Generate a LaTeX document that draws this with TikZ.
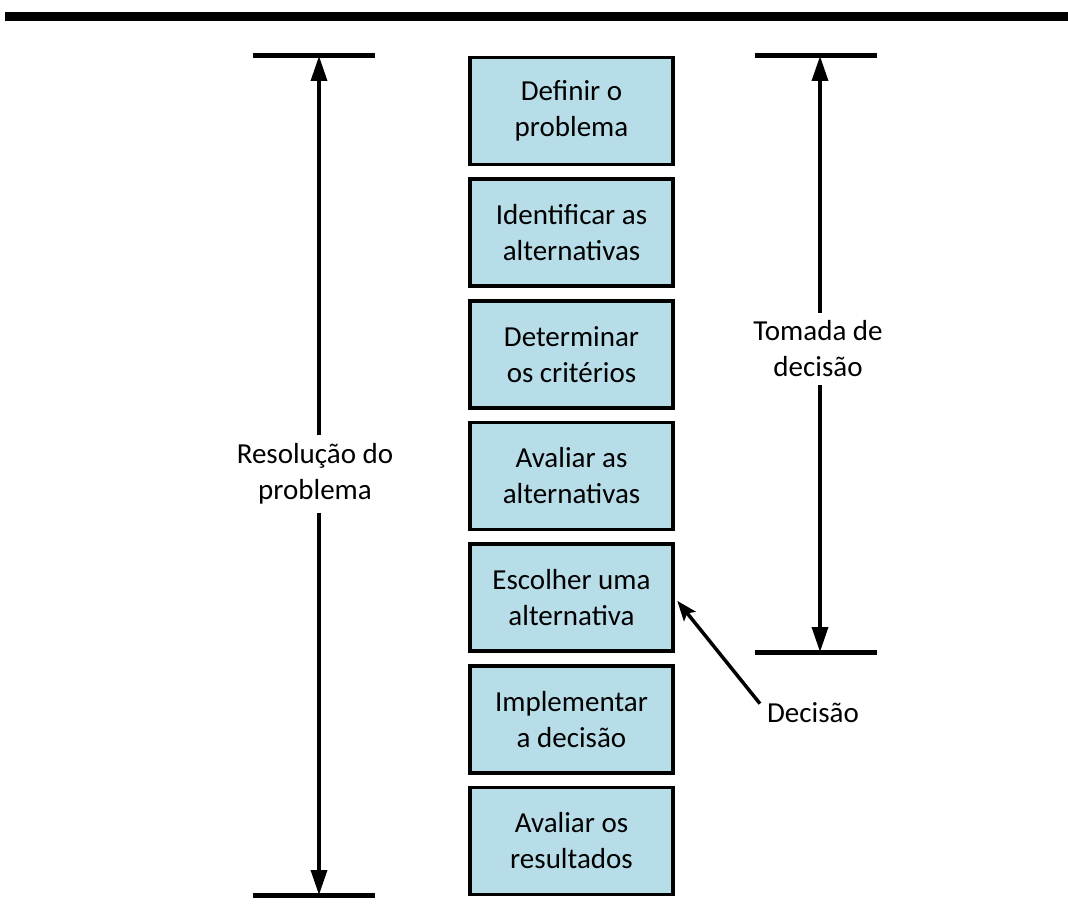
\documentclass[tikz,border=0pt]{standalone}
\usepackage{fontspec}
\setmainfont{Carlito}
\usetikzlibrary{arrows.meta}
\definecolor{stepfill}{HTML}{B7DDE8}
\begin{document}
\begin{tikzpicture}[x=1pt,y=-1pt,
  txt/.style={font=\fontsize{29}{36}\selectfont, align=center},
  stepbox/.style={txt, draw=black, line width=3.5pt, fill=stepfill,
    minimum width=203pt, minimum height=107pt, inner sep=0pt},
  label/.style={txt, inner sep=8pt},
  bar/.style={line width=5pt},
  span/.style={line width=3.5pt, -{Triangle[length=25pt,width=16pt]}},
  pointer/.style={line width=3.5pt, -{Stealth[length=20pt,width=15pt,inset=4pt]}}
]
\useasboundingbox (0,0) rectangle (1068,917);

% heading rule
\fill (5,12) rectangle (1068,21);

% process steps
\node[stepbox] (b1) at (571.5,111)   {Definir o\\problema};
\node[stepbox] (b2) at (571.5,232.7) {Identificar as\\alternativas};
\node[stepbox] (b3) at (571.5,354.3) {Determinar\\os critérios};
\node[stepbox] (b4) at (571.5,476)   {Avaliar as\\alternativas};
\node[stepbox] (b5) at (571.5,597.7) {Escolher uma\\alternativa};
\node[stepbox] (b6) at (571.5,719.3) {Implementar\\a decisão};
\node[stepbox] (b7) at (571.5,841)   {Avaliar os\\resultados};

% problem-solving span (left)
\coordinate (lt) at (319,56);
\coordinate (lb) at (319,895);
\draw[bar] (253,56) -- (375,56);
\draw[bar] (253,895) -- (375,895);
\node[label] (res) at (315,474) {Resolução do\\problema};
\draw[span] (res.north -| lt) -- (lt);
\draw[span] (res.south -| lb) -- (lb);

% decision-making span (right)
\coordinate (rt) at (820,56);
\coordinate (rb) at (820,652);
\draw[bar] (755,56) -- (877,56);
\draw[bar] (755,652) -- (877,652);
\node[label] (tom) at (818,349) {Tomada de\\decisão};
\draw[span] (tom.north -| rt) -- (rt);
\draw[span] (tom.south -| rb) -- (rb);

% decision pointer
\node[label, inner sep=7pt] (dec) at (813,713) {Decisão};
\draw[pointer, shorten >=4pt] (dec.170) -- (b5.east);
\end{tikzpicture}
\end{document}
